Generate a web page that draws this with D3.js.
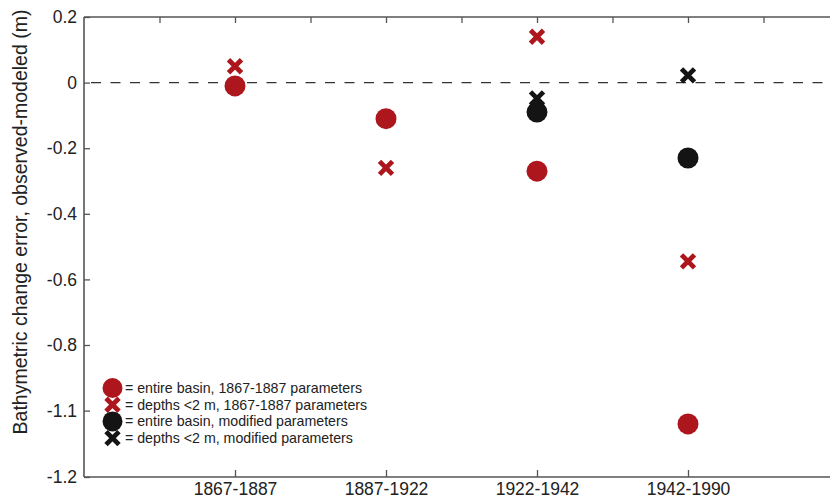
<!DOCTYPE html>
<html>
<head>
<meta charset="utf-8">
<script src="https://cdn.jsdelivr.net/npm/d3@7"></script>
<style>
  body { margin: 0; background: #fff; }
  svg { display: block; font-family: "Liberation Sans", Arial, sans-serif; }
</style>
</head>
<body>
<div class="chart"></div>
<script>
//The periods along the x axis (placed at positions 2,4,6,8 of a 0-10 axis)
var periods = ["1867-1887", "1887-1922", "1922-1942", "1942-1990"];
var periodPos = [2, 4, 6, 8];

//Values, one per period (null = no point)
var basinOld = [-0.01, -0.11, -0.27, -1.12];
var shallowOld = [0.05, -0.26, 0.14, -0.545];
var basinNew = [null, null, -0.09, -0.23];
var shallowNew = [null, null, -0.048, 0.022];

//Y tick values and the labels shown on the axis
var yTicks = [0.2, 0, -0.2, -0.4, -0.6, -0.8, -1.1, -1.2];
var yTickLabels = ["0.2", "0", "-0.2", "-0.4", "-0.6", "-0.8", "-1.1", "-1.2"];

var legendLabels = [
  "= entire basin, 1867-1887 parameters",
  "= depths <2 m, 1867-1887 parameters",
  "= entire basin, modified parameters",
  "= depths <2 m, modified parameters"
];

var red = "#ad161d";
var black = "#141414";

function init(){
  var w = 830;
  var h = 498;
  var left = 84, right = 839, top = 17, bottom = 477;

  var svg = d3.select(".chart")
              .append("svg")
              .attr("width", w)
              .attr("height", h);

  //x: 0..10 with categories at even positions
  var x = d3.scaleLinear()
            .domain([0, 10])
            .range([left, right]);

  //y: the original axis is squeezed below -0.8 (-0.8 -> -1.1 takes one step)
  var y = d3.scaleLinear()
            .domain([0.2, -0.8, -1.1, -1.2])
            .range([top, top + 5 * 65.6, top + 6 * 65.6, bottom]);

  var axisColor = "#555";

  //Zero line
  svg.append("line")
      .attr("x1", x(0))
      .attr("x2", x(10))
      .attr("y1", y(0))
      .attr("y2", y(0))
      .attr("stroke", "#333")
      .attr("stroke-width", 1.4)
      .attr("stroke-dasharray", "10,9.5")
      .attr("stroke-dashoffset", -7);

  //Top axis: minor ticks at every unit, no labels
  var topAxis = d3.axisBottom(x)
                  .tickValues(d3.range(1, 10))
                  .tickSize(6)
                  .tickFormat("");
  var gTop = svg.append("g")
      .attr("transform", "translate(0," + top + ")")
      .call(topAxis);

  //Bottom axis with period labels
  var bottomAxis = d3.axisTop(x)
                     .tickValues(periodPos)
                     .tickSize(7)
                     .tickFormat(function(d, i){ return periods[i]; });
  var gBottom = svg.append("g")
      .attr("transform", "translate(0," + bottom + ")")
      .call(bottomAxis);
  gBottom.selectAll("text")
      .attr("y", 18)
      .attr("dy", "0")
      .style("font-size", "17.5px");

  //Left axis
  var leftAxis = d3.axisRight(y)
                   .tickValues(yTicks)
                   .tickSize(6)
                   .tickFormat(function(d, i){ return yTickLabels[i]; });
  var gLeft = svg.append("g")
      .attr("transform", "translate(" + left + ",0)")
      .call(leftAxis);
  gLeft.selectAll("text")
      .attr("x", -7)
      .attr("text-anchor", "end")
      .style("font-size", "17.5px");

  [gTop, gBottom, gLeft].forEach(function(g){
    g.select(".domain").attr("stroke", axisColor).attr("stroke-width", 1.6);
    g.selectAll(".tick line").attr("stroke", axisColor).attr("stroke-width", 1.3);
    g.selectAll("text").attr("fill", "#222").style("font-family", "Liberation Sans, Arial, sans-serif");
  });
  gTop.select(".domain").attr("d", "M" + left + ",0H" + right);
  gBottom.select(".domain").attr("d", "M" + left + ",0H" + right);
  gLeft.select(".domain").attr("d", "M0," + top + "V" + bottom);

  //Y axis title
  svg.append("text")
      .attr("transform", "translate(27,222) rotate(-90)")
      .attr("text-anchor", "middle")
      .attr("fill", "#222")
      .style("font-size", "19.5px")
      .text("Bathymetric change error, observed-modeled (m)");

  //Marker helpers
  function drawCircles(values, color){
    svg.append("g")
        .selectAll("circle")
        .data(values.map(function(v, i){ return {pos: periodPos[i], v: v}; })
                    .filter(function(d){ return d.v !== null; }))
        .enter()
        .append("circle")
        .attr("cx", function(d){ return x(d.pos); })
        .attr("cy", function(d){ return y(d.v); })
        .attr("r", 10.5)
        .attr("fill", color);
  }

  function crossPath(cx, cy, s){
    return "M" + (cx - s) + "," + (cy - s) + "L" + (cx + s) + "," + (cy + s) +
           "M" + (cx - s) + "," + (cy + s) + "L" + (cx + s) + "," + (cy - s);
  }

  function drawCrosses(values, color){
    svg.append("g")
        .selectAll("path")
        .data(values.map(function(v, i){ return {pos: periodPos[i], v: v}; })
                    .filter(function(d){ return d.v !== null; }))
        .enter()
        .append("path")
        .attr("d", function(d){ return crossPath(x(d.pos), y(d.v), 6.5); })
        .attr("stroke", color)
        .attr("stroke-width", 4.8)
        .attr("fill", "none");
  }

  drawCircles(basinOld, red);
  drawCrosses(shallowOld, red);
  drawCircles(basinNew, black);
  drawCrosses(shallowNew, black);

  //Legend
  var legend = svg.append("g");
  var legendX = 112.5, legendY = 388, legendStep = 16.7;
  var legendKinds = [["circle", red], ["cross", red], ["circle", black], ["cross", black]];

  legendKinds.forEach(function(k, i){
    var ly = legendY + i * legendStep;
    if(k[0] == "circle"){
      legend.append("circle")
            .attr("cx", legendX)
            .attr("cy", ly)
            .attr("r", 10)
            .attr("fill", k[1]);
    }else{
      legend.append("path")
            .attr("d", crossPath(legendX, ly, 6.5))
            .attr("stroke", k[1])
            .attr("stroke-width", 4.8)
            .attr("fill", "none");
    }
    legend.append("text")
          .attr("x", 125)
          .attr("y", ly + 5)
          .attr("fill", "#222")
          .style("font-size", "14.2px")
          .text(legendLabels[i]);
  });
}

window.onload = init;
</script>
</body>
</html>
